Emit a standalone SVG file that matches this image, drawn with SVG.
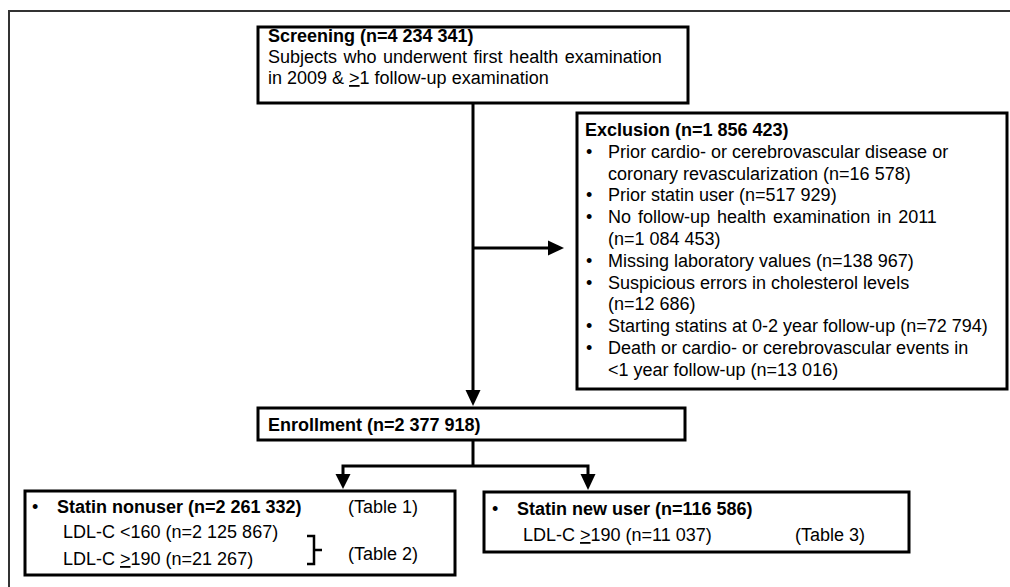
<svg xmlns="http://www.w3.org/2000/svg" width="1010" height="587" viewBox="0 0 1010 587">
<style>
.box{fill:#fff;stroke:#000;stroke-width:3}
.t{font-family:"Liberation Sans",Arial,sans-serif;font-size:18px;fill:#000}
.b{font-weight:bold}
.ln{fill:none;stroke:#000;stroke-width:3}
.ah{fill:#000}
</style>
<rect width="1010" height="587" fill="#fff"/>
<rect x="9" y="11" width="1020" height="600" fill="none" stroke="#333" stroke-width="2"/>
<g id="connectors">
<line class="ln" x1="473" y1="103" x2="473" y2="392"/>
<polygon class="ah" points="465.5,390 480.5,390 473,406"/>
<line class="ln" x1="473" y1="248" x2="550" y2="248"/>
<polygon class="ah" points="548,240.5 548,255.5 564,248"/>
<polyline class="ln" points="473,440 473,466"/>
<polyline class="ln" points="473,466 343,466 343,476"/>
<polyline class="ln" points="473,466 588,466 588,476"/>
<polygon class="ah" points="335.5,474 350.5,474 343,489"/>
<polygon class="ah" points="580.5,474 595.5,474 588,490"/>
</g>
<g id="screening">
<rect class="box" x="258" y="27" width="430" height="76"/>
<text class="t b" x="268" y="42">Screening (n=4 234 341)</text>
<text class="t" x="268" y="63" word-spacing="1.5">Subjects who underwent first health examination</text>
<text class="t" x="268" y="84">in 2009 &amp; <tspan text-decoration="underline">&gt;</tspan>1 follow-up examination</text>
</g>
<g id="exclusion">
<rect class="box" x="577" y="113" width="430" height="276"/>
<text class="t b" x="585" y="136">Exclusion (n=1 856 423)</text>
<text class="t" x="586" y="157.8">•</text><text class="t" x="608" y="157.8">Prior cardio- or cerebrovascular disease or</text>
<text class="t" x="608" y="179.6">coronary revascularization (n=16 578)</text>
<text class="t" x="586" y="201.4">•</text><text class="t" x="608" y="201.4">Prior statin user (n=517 929)</text>
<text class="t" x="586" y="223.2">•</text><text class="t" x="608" y="223.2" word-spacing="2">No follow-up health examination in 2011</text>
<text class="t" x="608" y="245">(n=1 084 453)</text>
<text class="t" x="586" y="266.8">•</text><text class="t" x="608" y="266.8">Missing laboratory values (n=138 967)</text>
<text class="t" x="586" y="288.6">•</text><text class="t" x="608" y="288.6">Suspicious errors in cholesterol levels</text>
<text class="t" x="608" y="310.4">(n=12 686)</text>
<text class="t" x="586" y="332.2">•</text><text class="t" x="608" y="332.2">Starting statins at 0-2 year follow-up (n=72 794)</text>
<text class="t" x="586" y="354">•</text><text class="t" x="608" y="354">Death or cardio- or cerebrovascular events in</text>
<text class="t" x="608" y="375.8">&lt;1 year follow-up (n=13 016)</text>
</g>
<g id="enrollment">
<rect class="box" x="258" y="408" width="427" height="32"/>
<text class="t b" x="268" y="431">Enrollment (n=2 377 918)</text>
</g>
<g id="nonuser">
<rect class="box" x="25" y="491" width="430" height="84"/>
<text class="t" x="32" y="513">•</text>
<text class="t b" x="57" y="513">Statin nonuser (n=2 261 332)</text>
<text class="t" x="348" y="513">(Table 1)</text>
<text class="t" x="63" y="538">LDL-C &lt;160 (n=2 125 867)</text>
<text class="t" x="63" y="565">LDL-C <tspan text-decoration="underline">&gt;</tspan>190 (n=21 267)</text>
<path d="M307,536 L314,536 L314,550 L322,550 M314,550 L314,564 L307,564" fill="none" stroke="#000" stroke-width="2.5"/>
<text class="t" x="348" y="560">(Table 2)</text>
</g>
<g id="newuser">
<rect class="box" x="484" y="492" width="425" height="60"/>
<text class="t" x="492" y="515">•</text>
<text class="t b" x="517" y="515">Statin new user (n=116 586)</text>
<text class="t" x="523" y="541">LDL-C <tspan text-decoration="underline">&gt;</tspan>190 (n=11 037)</text>
<text class="t" x="795" y="541">(Table 3)</text>
</g>
</svg>
